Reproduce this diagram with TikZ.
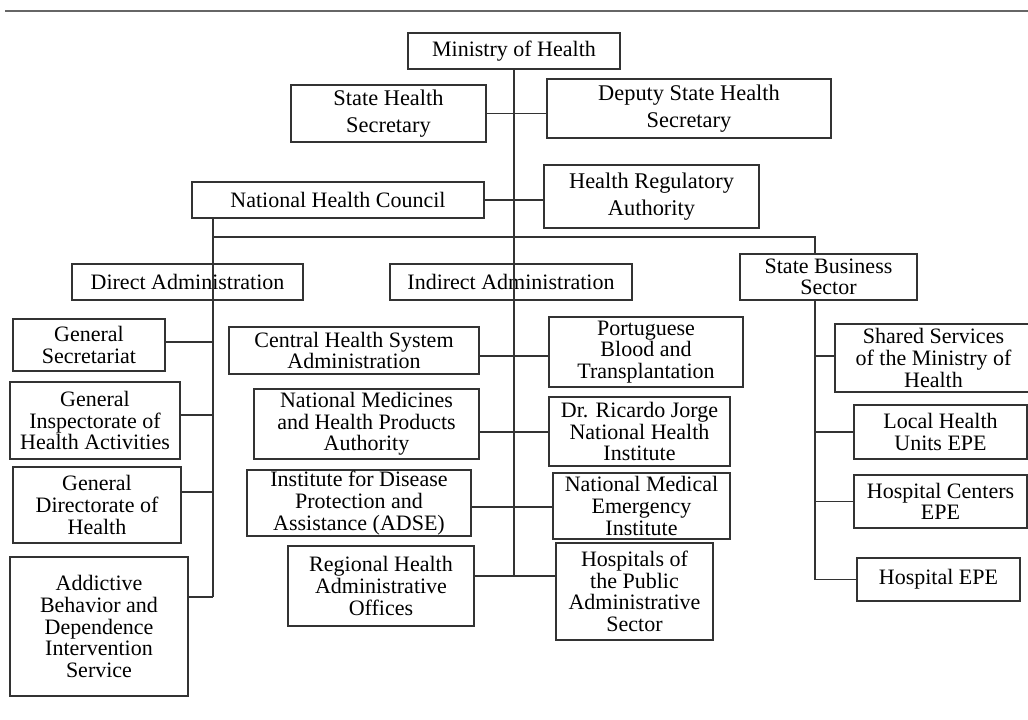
\documentclass[tikz,border=0pt]{standalone}
\usepackage{fontspec}
\setmainfont{Liberation Serif}
\usepackage{tikz}
\tikzstyle{unit} = [draw, align=center, inner sep=0pt, font=\fontsize{11}{10.8}\selectfont]
\tikzstyle{wide} = [font=\fontsize{11.2}{13.5}\selectfont]
\tikzstyle{link} = []

\begin{document}
\begin{tikzpicture}[x=0.5pt, y=-0.5pt, line width=0.6pt, draw=black!80]
  \useasboundingbox (0,0) rectangle (1028,719);
  \draw [black!60, line width=1pt] (5,11) -- (1028,11);
  % top levels
  \node (min) at (514,51) [unit, minimum width=106pt, minimum height=18pt] {Ministry of Health};
  \node (shs) at (388.5,113.5) [unit, wide, minimum width=97.5pt, minimum height=28.5pt] {State Health\\Secretary};
  \node (dshs) at (689,108.5) [unit, wide, minimum width=142pt, minimum height=29.5pt] {Deputy State Health\\Secretary};
  \node (nhc) at (338,200) [unit, minimum width=146pt, minimum height=18pt] {National Health Council};
  \node (hra) at (651.5,196.5) [unit, wide, minimum width=107.5pt, minimum height=31.5pt] {Health Regulatory\\Authority};
  \node (dir) at (187.5,282) [unit, minimum width=115.5pt, minimum height=18pt] {Direct Administration};
  \node (ind) at (511,282) [unit, minimum width=121pt, minimum height=18pt] {Indirect Administration};
  \node (sbs) at (828.5,277) [unit, minimum width=88.5pt, minimum height=23pt] {State Business\\Sector};
  % direct administration
  \node (gsec) at (89,345) [unit, minimum width=76pt, minimum height=26pt] {General\\Secretariat};
  \node (gins) at (95,420.5) [unit, minimum width=85pt, minimum height=38.5pt] {General\\Inspectorate of\\Health Activities};
  \node (gdir) at (97,505) [unit, minimum width=84pt, minimum height=38pt] {General\\Directorate of\\Health};
  \node (abd) at (99,626.5) [unit, minimum width=89pt, minimum height=69.5pt] {Addictive\\Behavior and\\Dependence\\Intervention\\Service};
  % indirect administration
  \node (chsa) at (354,350.5) [unit, minimum width=125pt, minimum height=23.5pt] {Central Health System\\Administration};
  \node (nmed) at (366.5,424) [unit, minimum width=112.5pt, minimum height=35pt] {National Medicines\\and Health Products\\Authority};
  \node (adse) at (359,503) [unit, minimum width=112pt, minimum height=33pt] {Institute for Disease\\Protection and\\Assistance (ADSE)};
  \node (rhao) at (381,586) [unit, minimum width=93pt, minimum height=40pt] {Regional Health\\Administrative\\Offices};
  \node (pbt) at (646,352) [unit, minimum width=97pt, minimum height=35pt] {Portuguese\\Blood and\\Transplantation};
  \node (drj) at (639.5,431.5) [unit, minimum width=90.5pt, minimum height=34.5pt] {Dr. Ricardo Jorge\\National Health\\Institute};
  \node (nmei) at (641.5,506) [unit, minimum width=88.5pt, minimum height=33pt] {National Medical\\Emergency\\Institute};
  \node (hpas) at (634.5,591.5) [unit, minimum width=78.5pt, minimum height=48.5pt] {Hospitals of\\the Public\\Administrative\\Sector};
  % state business sector
  \node (ssmh) at (933.5,358) [unit, minimum width=98.5pt, minimum height=34pt] {Shared Services\\of the Ministry of\\Health};
  \node (lhu) at (940.5,432) [unit, minimum width=86.5pt, minimum height=27pt] {Local Health\\Units EPE};
  \node (hce) at (940.5,501.5) [unit, minimum width=86.5pt, minimum height=26.5pt] {Hospital Centers\\EPE};
  \node (hepe) at (938.5,579.5) [unit, minimum width=81.5pt, minimum height=21.5pt] {Hospital EPE};
  \coordinate (dt) at (213,237);
  \coordinate (st) at (815,237);
  \draw [link] (min) -- (min |- 0,576);
  \draw [link] (shs.east) -- (shs.east -| dshs.west);
  \draw [link] (nhc.east) -- (nhc.east -| hra.west);
  \draw [link] (dt |- nhc.south) -- (dt) -- (st) -- (st |- sbs.north);
  \draw [link] (dt) -- (dt |- 0,597);
  \draw [link] (st |- sbs.south) -- (st |- hepe.west);
  \draw [link] (gsec.east |- 0,342) -- (dt |- 0,342);
  \draw [link] (gins.east |- 0,415) -- (dt |- 0,415);
  \draw [link] (gdir.east |- 0,492) -- (dt |- 0,492);
  \draw [link] (abd.east |- 0,597) -- (dt |- 0,597);
  \draw [link] (chsa.east |- 0,356) -- (pbt.west |- 0,356);
  \draw [link] (nmed.east |- 0,432) -- (drj.west |- 0,432);
  \draw [link] (adse.east |- 0,507) -- (nmei.west |- 0,507);
  \draw [link] (rhao.east |- 0,576) -- (hpas.west |- 0,576);
  \draw [link] (ssmh.west |- 0,356) -- (st |- 0,356);
  \draw [link] (lhu.west) -- (lhu.west -| st);
  \draw [link] (hce.west) -- (hce.west -| st);
  \draw [link] (hepe.west) -- (hepe.west -| st);
\end{tikzpicture}
\end{document}
